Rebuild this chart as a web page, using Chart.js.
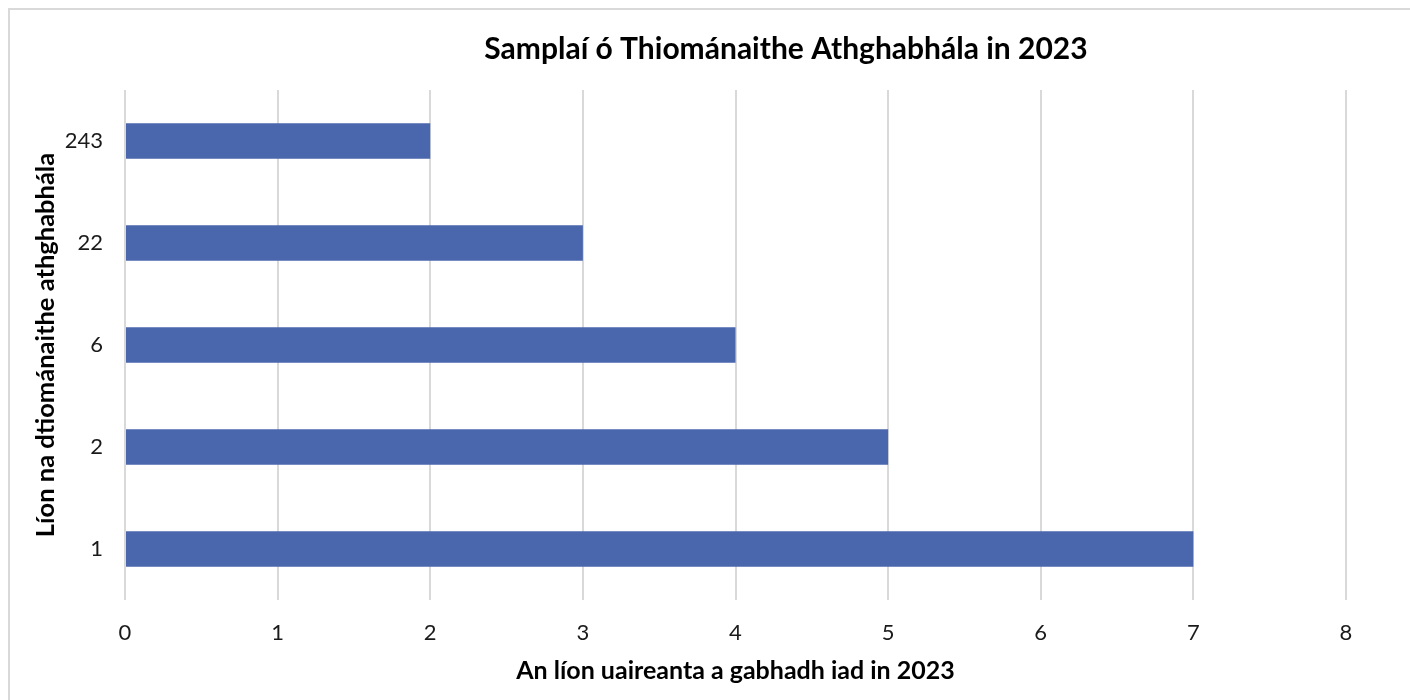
<!DOCTYPE html>
<html>
<head>
<meta charset="utf-8">
<script src="https://cdn.jsdelivr.net/npm/chart.js"></script>
<style>
  html, body { margin: 0; padding: 0; background: #fff; }
  #wrap { position: relative; width: 1410px; height: 700px; overflow: hidden; }
  #frame { position: absolute; left: 8px; top: 8px; width: 1500px; height: 800px; border: 2px solid #d9d9d9; box-sizing: border-box; }
  canvas { position: absolute; left: 0; top: 0; }
</style>
</head>
<body>
<div id="wrap">
  <div id="frame"></div>
  <canvas id="chart" width="1410" height="700"></canvas>
</div>
<script>
const categories = ['243', '22', '6', '2', '1'];
const timesCaught = [2, 3, 4, 5, 7];
const xTicks = [0, 1, 2, 3, 4, 5, 6, 7, 8];

const ctx = document.getElementById('chart').getContext('2d');

// the title sits a little right of centre in the original
const shiftTitle = {
    id: 'shiftTitle',
    afterLayout(chart) {
        const t = chart.titleBlock;
        if (t) { t.left += 103; t.right += 103; }
    }
};

new Chart(ctx, {
    type: 'bar',
    data: {
        labels: categories,
        datasets: [{
            data: timesCaught,
            backgroundColor: '#4a67ad',
            barPercentage: 0.7,
            categoryPercentage: 0.5
        }]
    },
    options: {
        indexAxis: 'y',
        responsive: false,
        animation: false,
        layout: {
            padding: { left: 20, right: 64, top: 9, bottom: 0 }
        },
        plugins: {
            legend: { display: false },
            tooltip: { enabled: false },
            title: {
                display: true,
                text: 'Samplaí ó Thiománaithe Athghabhála in 2023',
                color: '#000',
                font: { family: 'Lato', size: 30, weight: 'bold' },
                padding: { top: 22, bottom: 23 }
            }
        },
        scales: {
            x: {
                min: 0,
                max: 8,
                afterBuildTicks: (scale) => {
                    scale.ticks = xTicks.map(v => ({ value: v }));
                },
                afterFit: (scale) => { scale.height = 100; },
                border: { display: false },
                grid: { color: '#d9d9d9', lineWidth: 2, drawTicks: false },
                ticks: {
                    color: '#1a1a1a',
                    padding: 20,
                    font: { family: 'Lato', size: 22 }
                },
                title: {
                    display: true,
                    text: 'An líon uaireanta a gabhadh iad in 2023',
                    color: '#000',
                    font: { family: 'Lato', size: 25, weight: 'bold' },
                    padding: { top: 0, bottom: 14 }
                }
            },
            y: {
                afterFit: (scale) => { scale.width = 105; },
                border: { display: false },
                grid: { display: false, drawTicks: false },
                ticks: {
                    color: '#1a1a1a',
                    padding: 22,
                    font: { family: 'Lato', size: 22 }
                },
                title: {
                    display: true,
                    text: 'Líon na dtiománaithe athghabhála',
                    color: '#000',
                    font: { family: 'Lato', size: 25.5, weight: 'bold' },
                    padding: { top: 10, bottom: 0 }
                }
            }
        }
    },
    plugins: [shiftTitle]
});
</script>
</body>
</html>
